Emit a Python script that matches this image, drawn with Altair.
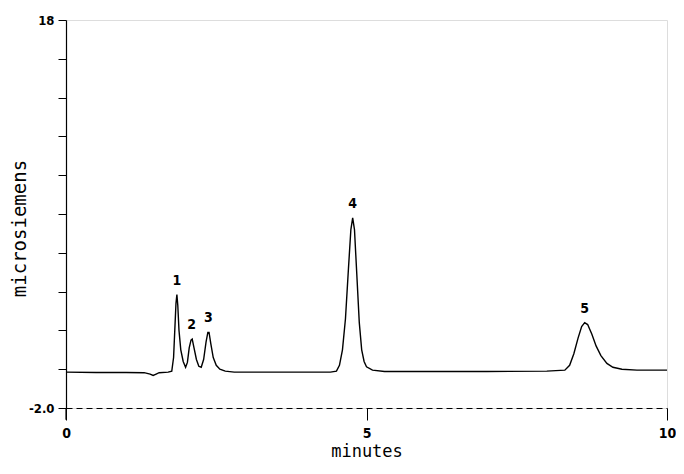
import altair as alt
import pandas as pd

# Trace of the chromatogram (minutes, microsiemens)
time_min = [0.0, 0.5, 1.0, 1.3, 1.4, 1.45, 1.5, 1.55, 1.7, 1.76, 1.79, 1.81, 1.83, 1.845,
            1.86, 1.88, 1.91, 1.95, 1.99, 2.02, 2.05, 2.08, 2.1, 2.13, 2.17, 2.21, 2.25,
            2.29, 2.33, 2.36, 2.38, 2.41, 2.45, 2.5, 2.56, 2.65, 2.8, 3.5, 4.0, 4.4, 4.5,
            4.55, 4.6, 4.65, 4.7, 4.74, 4.77, 4.8, 4.84, 4.88, 4.92, 4.96, 5.0, 5.1, 5.3,
            6.0, 7.0, 8.0, 8.3, 8.38, 8.45, 8.52, 8.58, 8.63, 8.68, 8.75, 8.82, 8.9, 9.0,
            9.1, 9.25, 9.5, 10.0]
signal = [-0.15, -0.17, -0.17, -0.18, -0.25, -0.32, -0.25, -0.18, -0.15, -0.1, 0.6, 2.0,
          3.4, 3.85, 3.3, 2.0, 1.0, 0.4, 0.1, 0.35, 1.1, 1.5, 1.55, 1.1, 0.5, 0.15, 0.1,
          0.5, 1.4, 1.9, 1.9, 1.3, 0.6, 0.2, 0.0, -0.1, -0.15, -0.15, -0.15, -0.15, -0.1,
          0.2, 1.0, 2.6, 5.2, 7.2, 7.8, 7.2, 4.8, 2.4, 1.0, 0.4, 0.12, -0.05, -0.12,
          -0.12, -0.12, -0.1, -0.05, 0.2, 0.8, 1.6, 2.2, 2.4, 2.3, 1.8, 1.2, 0.7, 0.3,
          0.1, 0.0, -0.05, -0.05]

# Peak labels
peak_t = [1.845, 2.09, 2.37, 4.77, 8.63]
peak_v = [3.85, 1.55, 1.92, 7.8, 2.4]
peak_lbl = ["1", "2", "3", "4", "5"]

y_ticks = [-2, 0, 2, 4, 6, 8, 10, 12, 14, 16, 18]
x_ticks = [0, 5, 10]

trace = pd.DataFrame({"t": time_min, "v": signal})
peaks = pd.DataFrame({"t": peak_t, "v": peak_v, "lbl": peak_lbl})

tick_font = "'Liberation Sans Narrow', 'DejaVu Sans Condensed', 'Liberation Sans', sans-serif"
title_font = "DejaVu Sans Mono"

x_scale = alt.Scale(domain=[0, 10], nice=False)
y_scale = alt.Scale(domain=[-2, 18], nice=False)

line = alt.Chart(trace).mark_line(color="black", strokeWidth=1.4).encode(
    x=alt.X("t:Q", scale=x_scale,
            axis=alt.Axis(values=x_ticks, tickCount=3, format="d", title="minutes",
                          titleFont=title_font, titleFontSize=17, titleFontWeight="normal",
                          titleColor="black", titlePadding=3,
                          labelFont=tick_font, labelFontWeight="bold", labelFontSize=14,
                          labelColor="black", labelPadding=6, tickSize=12,
                          tickColor="black", domainColor="black", domainDash=[6, 4],
                          domainWidth=1, grid=False, labelFlush=False, labelOverlap=False)),
    y=alt.Y("v:Q", scale=y_scale,
            axis=alt.Axis(values=y_ticks, tickCount=11, title="microsiemens",
                          titleFont=title_font, titleFontSize=19, titleFontWeight="normal",
                          titleColor="black", titleX=-47, titleY=208, titleAngle=270,
                          titleBaseline="middle", titleAlign="center",
                          labelExpr="datum.value == 18 ? '18' : (datum.value == -2 ? '-2.0' : '')",
                          labelFont=tick_font, labelFontWeight="bold", labelFontSize=13,
                          labelColor="black", labelPadding=4, tickSize=8,
                          tickColor="black", domainColor="black", domainWidth=1.2,
                          grid=False, labelFlush=False, labelOverlap=False)),
)

labels = alt.Chart(peaks).mark_text(
    font=tick_font, fontWeight="bold", fontSize=14, color="black",
    baseline="bottom", dy=-7
).encode(x=alt.X("t:Q", scale=x_scale), y=alt.Y("v:Q", scale=y_scale), text="lbl:N")

# extension of the y axis line below the dashed baseline
ext = pd.DataFrame({"x": [0], "y1": [-2], "y2": [-2.6]})
axis_ext = alt.Chart(ext).mark_rule(color="black", strokeWidth=1.2).encode(
    x=alt.X("x:Q", scale=x_scale), y=alt.Y("y1:Q", scale=y_scale), y2="y2:Q")

chart = (line + labels + axis_ext).properties(
    width=601, height=388,
    autosize=alt.AutoSizeParams(type="none"),
    padding={"left": 58, "top": 12, "right": 9, "bottom": 58},
).configure_view(stroke=None).configure(background="white")

chart.save("out.html", embed_options={"renderer": "svg", "actions": False})
